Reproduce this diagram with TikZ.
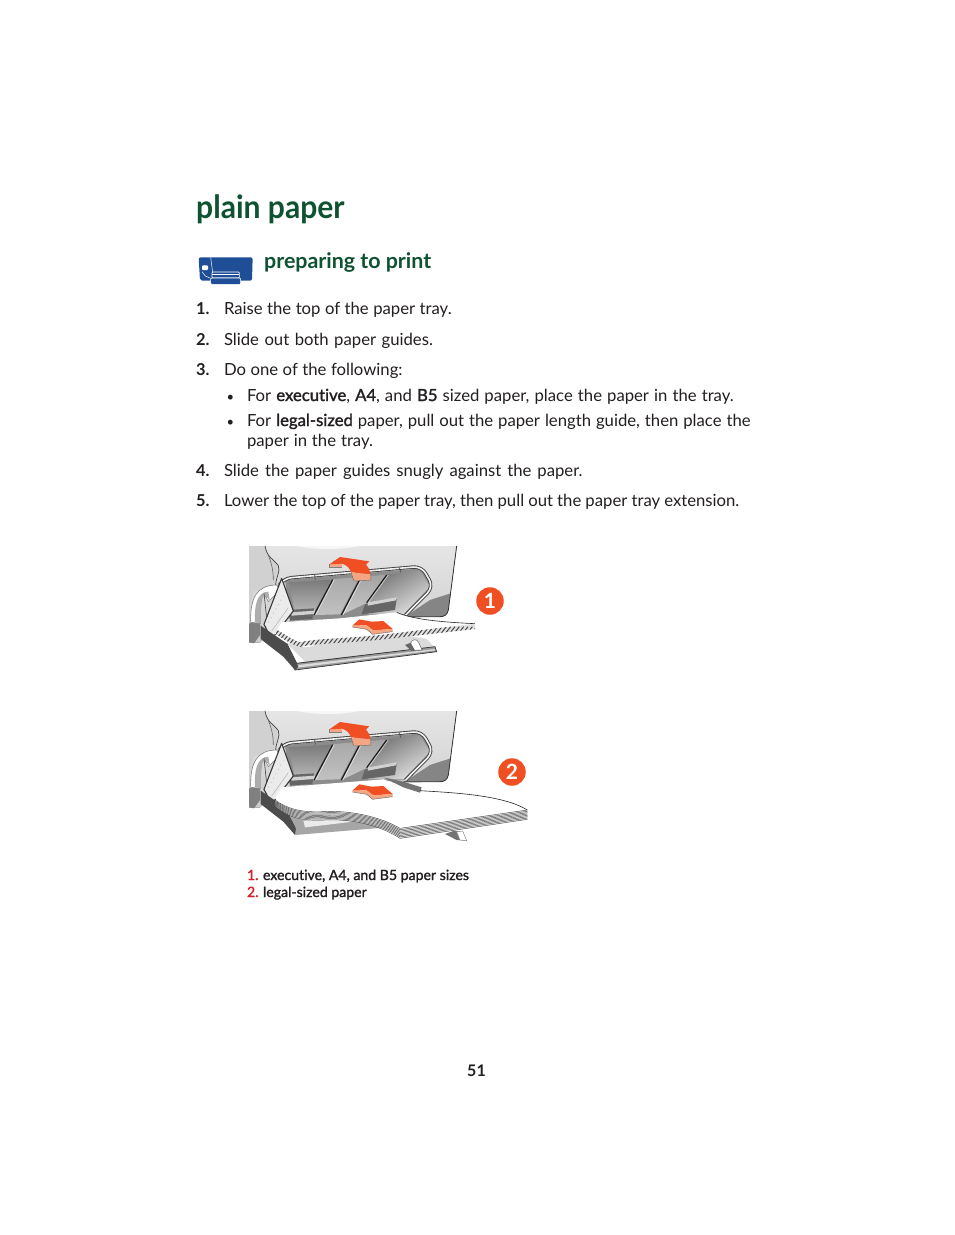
\documentclass[tikz,border=0pt]{standalone}
\usepackage{fontspec}
\setmainfont{Lato}[Ligatures=NoCommon]
\newfontfamily\titlef[FakeStretch=.94,Ligatures=NoCommon]{Lato}
\newfontfamily\boldf[FakeBold=1.6,Ligatures=NoCommon]{Lato}
\newcommand{\bo}[1]{{\boldf #1}}
\newcommand{\wsp}[1]{\spaceskip=\dimexpr\fontdimen2\font+#1pt\relax\xspaceskip=\spaceskip}
\definecolor{hpgreen}{HTML}{0F5230}
\definecolor{hpblue}{HTML}{1F4E96}
\definecolor{arrowred}{HTML}{F04E23}
\definecolor{arrowpink}{HTML}{F4A582}
\definecolor{capred}{HTML}{D2232A}
\definecolor{txt}{HTML}{231F20}
\tikzset{
 txtn/.style={anchor=base west,inner sep=0pt,outer sep=0pt,text=txt,font=\fontsize{16.7}{20}\selectfont},
 numtxt/.style={txtn,font=\fontsize{16.4}{20}\selectfont\bfseries},
 captxt/.style={txtn,font=\fontsize{14.1}{16}\selectfont\boldf},
 badge/.style={circle,fill=arrowred,text=white,inner sep=0pt,minimum size=27.5pt,font=\fontsize{21}{22}\selectfont\bfseries},
}
\newcommand{\printerart}{%
 % housing
 \fill[top color=black!10,bottom color=black!20] (27,33)--(650,33)--(625,225) .. controls (622,240) and (612,245) .. (600,245)--(300,250)--(120,262)--(60,322)--(27,322)--cycle;
 \fill[white,opacity=.7] (170,33) .. controls (230,45) and (300,45) .. (360,33)--cycle;
 \fill[black!48] (632,175)--(625,225) .. controls (622,240) and (612,245) .. (600,245)--(495,245)--(570,195)--cycle;
 \draw[black!80,line width=.8pt] (650,33)--(625,225) .. controls (622,240) and (612,245) .. (600,245)--(490,245);
 \fill[black!18] (27,33)--(75,33) .. controls (85,70) and (100,70) .. (112,90) .. controls (120,110) and (105,125) .. (105,150) -- (40,170)--(27,230)--cycle;
 \draw[black!75,line width=.7pt] (75,33) .. controls (82,70) and (100,70) .. (115,92) .. controls (122,110) and (108,125) .. (107,150);
 \draw[black!60,line width=.6pt] (85,60) .. controls (92,80) and (100,100) .. (100,135);
 % side pillar
 \fill[black!50] (27,265)--(27,322)--(42,325)--(60,300)--(60,262)--cycle;
 \fill[white,draw=black!50,line width=.6pt] (32,262) .. controls (30,190) and (50,150) .. (110,150)--(120,165)--(85,200) .. controls (70,165) and (60,175) .. (62,265)--cycle;
 \fill[black!32] (45,262) .. controls (42,210) and (52,170) .. (85,170) -- (90,200) .. controls (70,165) and (60,175) .. (62,265)--cycle;
 \draw[black!75,line width=.6pt] (72,175)--(80,250);
 % tray interior
 \fill[black!45] (135,135)--(545,100)--(578,155)--(495,240)--(150,258)--cycle;
 \shade[top color=black!52,bottom color=black!28] (146,142)--(274,134)--(220,235)--(165,235)--cycle;
 \shade[top color=black!34,bottom color=black!24] (282,132)--(358,126)--(300,238)--(226,240)--cycle;
 \shade[top color=black!36,bottom color=black!22] (366,125)--(438,119)--(378,205)--(308,238)--cycle;
 \shade[left color=black!55,right color=black!12,shading angle=30] (442,118)--(540,105)--(570,155)--(490,238)--(385,238)--(378,205)--cycle;
 \draw[black!90,line width=1.1pt] (278,134)--(222,240) (362,128)--(304,240) (440,120)--(380,203);
 \draw[white,line width=.5pt,opacity=.7] (283,134)--(227,240) (367,128)--(309,240) (445,120)--(385,203);
 % slides
 \fill[black!60] (145,225)--(222,220)--(217,252)--(150,256)--cycle;
 \fill[black!18] (150,232)--(225,227)--(222,237)--(155,242)--cycle;
 \fill[black!60] (375,208)--(470,192)--(465,225)--(365,238)--cycle;
 \fill[black!18] (385,202)--(470,187)--(468,196)--(383,212)--cycle;
 % frame
 \draw[black!75,line width=3.4pt,line join=round,rounded corners=8pt] (118,150)--(130,130)--(545,94)--(580,156)--(497,240);
 \draw[black!6,line width=1.6pt,line join=round,rounded corners=8pt] (124,140)--(131,130)--(545,94)--(580,156)--(497,240);
 \draw[black!70,line width=.7pt] (224,118)--(226,134) (478,97)--(482,112);
 % left hinged arm
 \fill[black!8] (125,132)--(160,228)--(95,310)--(72,268)--cycle;
 \draw[black!78,line width=1.1pt,line join=round] (125,130)--(160,228)--(95,312)--(72,268)--cycle;
 \draw[black!25,line width=.9pt,dash pattern=on 1pt off 4pt] (85,262)--(130,182);
 \draw[black!30,line width=.5pt] (95,288)--(145,218);
}
\newcommand{\arrowsart}{%
 % upper arrow
 \fill[arrowpink] (268,88)--(306,84)--(306,97)--(268,97)--cycle;
 \fill[arrowred] (268,88)--(300,66)--(388,79)--(378,89) .. controls (386,97) and (390,108) .. (392,118)--(333,112) .. controls (330,100) and (320,90) .. (306,86)--cycle;
 \fill[arrowpink] (333,112)--(392,118)--(393,135)--(342,138)--cycle;
 \draw[black!60,line width=.4pt] (333,112)--(342,138)--(393,135)--(392,118);
 \draw[black!50,line width=.3pt] (268,88)--(268,97)--(306,97);
 % lower arrow
 \fill[arrowred] (337,272)--(358,253)--(395,260)--(430,258)--(458,282)--(400,286)--(380,271)--cycle;
 \fill[arrowpink] (337,272)--(380,271)--(400,286)--(458,282)--(458,290)--(398,298)--(380,283)--(337,276)--cycle;
 \draw[black!60,line width=.4pt] (337,276)--(380,283)--(398,298)--(458,290);
}
\begin{document}
\begin{tikzpicture}[x=1pt,y=-1pt]
\useasboundingbox (0,0) rectangle (954,1235);
\fill[white] (0,0) rectangle (954,1235);
\node[anchor=base west,inner sep=0pt,text=hpgreen,font=\fontsize{32}{36}\selectfont\titlef\bfseries] (title) at (196,218) {plain paper};
\node[anchor=base west,inner sep=0pt,text=hpgreen,font=\fontsize{21.4}{26}\selectfont\bfseries] (sub) at (264,268) {preparing to print};
% icon
\begin{scope}[shift={(190,240)},x=1/3*1pt,y=-1/3*1pt]
 \fill[hpblue,rounded corners=2pt] (26,52)--(188,52)--(186,122)--(30,122)--cycle;
 \draw[white,line width=.5pt] (62,52)--(68,98);
 \fill[white,rounded corners=1pt] (36,76) rectangle (54,90);
 \draw[white,line width=.5pt] (36,95)--(46,108)--(62,115);
 \fill[hpblue,draw=white,line width=.6pt,rounded corners=1pt] (66,96) rectangle (148,114);
 \fill[hpblue,draw=white,line width=.6pt,rounded corners=1pt] (62,114) rectangle (152,133);
 \draw[white,line width=.5pt] (66,104)--(148,104);
\end{scope}
\node[numtxt] (n1) at (196,314) {1.};
\node[txtn] (t1) at (224,314) {\wsp{.2}Raise the top of the paper tray.};
\node[numtxt] (n2) at (196,345) {2.};
\node[txtn] (t2) at (224,345) {\wsp{1.2}Slide out both paper guides.};
\node[numtxt] (n3) at (196,375) {3.};
\node[txtn] (t3) at (224,375) {\wsp{.25}Do one of the following:};
\node[txtn,font=\fontsize{13}{14}\selectfont] (b1) at (226.5,401) {•};
\node[txtn] (t3a) at (247,401) {\wsp{.8}For \bo{executive}, \bo{A4}, and \bo{B5} sized paper, place the paper in the tray.};
\node[txtn,font=\fontsize{13}{14}\selectfont] (b2) at (226.5,426) {•};
\node[txtn] (t3b) at (247,426) {\wsp{.67}For \bo{legal-sized} paper, pull out the paper length guide, then place the};
\node[txtn] (t3c) at (247,446) {\wsp{.6}paper in the tray.};
\node[numtxt] (n4) at (196,476) {4.};
\node[txtn] (t4) at (224,476) {\wsp{1.7}Slide the paper guides snugly against the paper.};
\node[numtxt] (n5) at (196,506) {5.};
\node[txtn] (t5) at (224,506) {\wsp{-.15}Lower the top of the paper tray, then pull out the paper tray extension.};
% figure 1
\begin{scope}[shift={(240,535)},x=1/3*1pt,y=-1/3*1pt]
 \printerart
 % paper sheet
 \fill[white] (105,295)--(125,262)--(300,250)--(470,232) .. controls (520,255) and (620,262) .. (705,268)--(705,282)--(300,330)--(140,330)--cycle;
 % base tray
 \fill[black!14] (140,325)--(195,380)--(585,338)--(560,312)--(480,298)--(200,325)--cycle;
 \fill[white] (175,325) .. controls (190,345) and (215,335) .. (240,322)--(190,320)--cycle;
 \fill[black!40] (168,385)--(195,380)--(585,335)--(590,350)--(165,405)--cycle;
 \fill[black!14] (176,390)--(585,342)--(586,346)--(172,398)--cycle;
 \draw[black!80,line width=.7pt] (140,325)--(170,385)--(585,335)--(590,350)--(165,405)--(140,350);
 \fill[black!70] (62,272)--(100,298)--(140,325)--(175,395)--(165,405)--(130,365)--(62,312)--cycle;
 % striped band
 \begin{scope}
  \clip (108,283) .. controls (130,295) and (150,310) .. (178,322) .. controls (240,308) and (340,312) .. (480,293)--(705,266)--(705,282)--(480,307) .. controls (340,326) and (240,322) .. (178,336) .. controls (150,325) and (125,310) .. (108,297)--cycle;
  \fill[black!12] (100,260) rectangle (710,340);
  \foreach \x in {0,13,...,620} {\draw[black!72,line width=1pt] (70+\x,345)--(125+\x,275);}
 \end{scope}
 \draw[black!85,line width=.6pt] (470,232) .. controls (520,255) and (620,262) .. (705,266);
 % knob
 \fill[black!60] (495,330)--(520,320)--(548,345)--(515,348)--cycle;
 \fill[white,draw=black!60,line width=.5pt] (512,325) .. controls (515,312) and (530,310) .. (536,322)--(546,345)--(524,346)--cycle;
 \arrowsart
\end{scope}
\node[badge] (b1c) at (490,601) {1};
% figure 2
\begin{scope}[shift={(240,700)},x=1/3*1pt,y=-1/3*1pt]
 \printerart
 % base
 \fill[black!70] (62,272)--(100,298)--(140,325)--(175,395)--(165,405)--(130,365)--(62,312)--cycle;
 \fill[black!35] (140,330)--(168,385)--(165,405)--(490,378)--(400,340)--cycle;
 \fill[black!8] (190,362)--(290,360)--(340,365)--(195,382)--cycle;
 % paper
 \fill[white] (105,295)--(125,262)--(430,238)--(500,262) .. controls (600,280) and (780,285) .. (862,330)--(480,385) .. controls (420,350) and (330,330) .. (250,335) .. controls (180,340) and (140,325) .. (105,295)--cycle;
 % guide wedge
 \fill[black!55] (430,232)--(490,245)--(545,262)--(540,278)--(490,262)--cycle;
 \draw[black!85,line width=.6pt] (540,272) .. controls (640,278) and (790,285) .. (862,330);
 % stripes
 \fill[black!10] (105,300) .. controls (140,325) and (180,338) .. (250,335) .. controls (330,330) and (420,350) .. (480,385)--(862,330)--(864,358)--(485,415) .. controls (430,375) and (330,355) .. (260,360) .. controls (200,368) and (150,355) .. (105,318)--cycle;
 \foreach \k in {0,.143,.286,.429,.571,.714,.857,1} {
  \draw[black!70,line width=.45pt] (105,300+18*\k) .. controls (140,325+25*\k) and (180,338+25*\k) .. (250,335+25*\k) .. controls (330,330+25*\k) and (420,350+25*\k) .. (480,385+30*\k)--(862,330+28*\k);
 }
 % knob
 \fill[black!55] (615,402)--(640,393)--(668,393)--(680,422)--(650,420)--cycle;
 \fill[white,draw=black!50,line width=.4pt] (650,395)--(668,393)--(680,422)--(660,420)--cycle;
 \arrowsart
\end{scope}
\node[badge] (b2c) at (512,772) {2};
% captions
\node[captxt,text=capred] (c1n) at (247,880) {1.};
\node[captxt] (c1) at (263,880) {executive, A4, and B5 paper sizes};
\node[captxt,text=capred] (c2n) at (247,897) {2.};
\node[captxt] (c2) at (263,897) {legal-sized paper};
\node[anchor=base,inner sep=0pt,text=txt,font=\fontsize{16}{18}\selectfont\bfseries] (pg) at (476.5,1076) {51};
\end{tikzpicture}
\end{document}
